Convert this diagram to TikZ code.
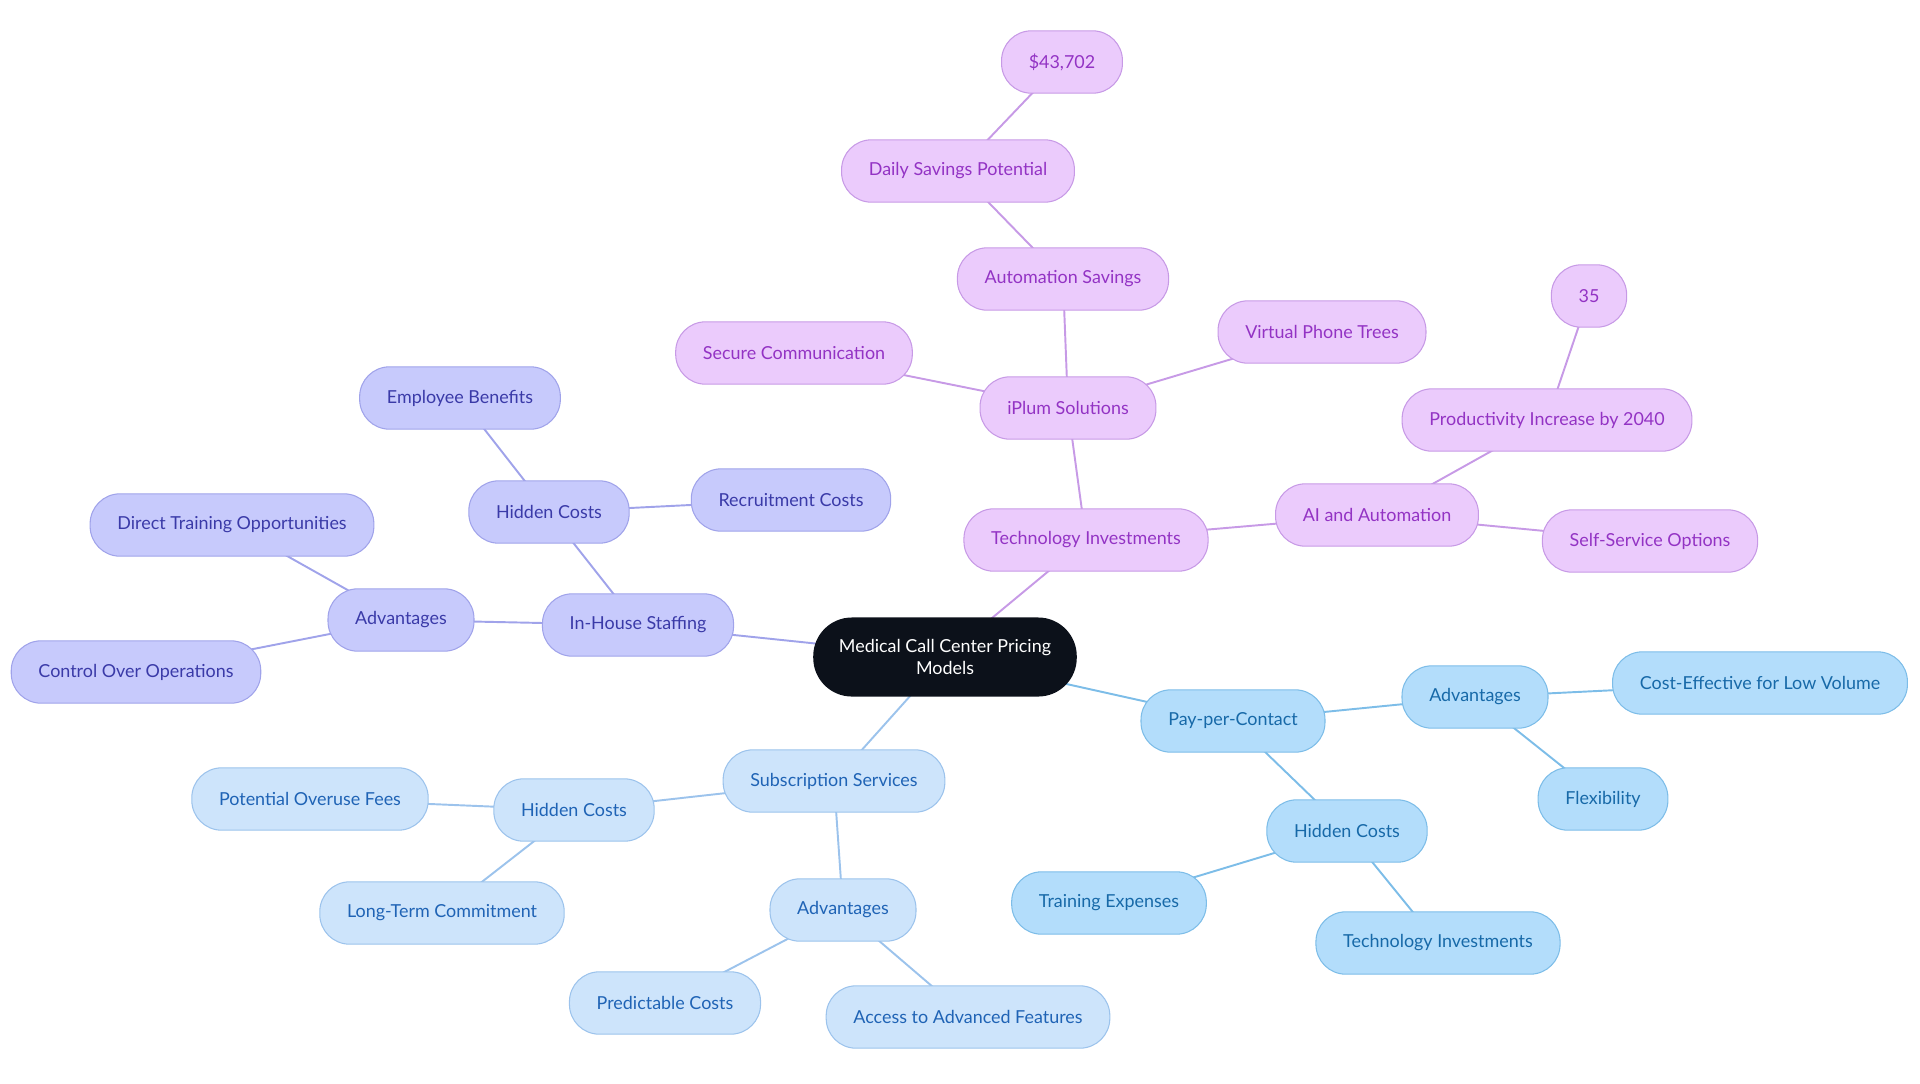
\documentclass[tikz,border=0pt]{standalone}
\usepackage{fontspec}
\setmainfont{Lato}
\usetikzlibrary{positioning,backgrounds}

\definecolor{rootfill}{HTML}{0C111A}
\definecolor{techfill}{HTML}{EBCBFC}
\definecolor{techline}{HTML}{C79AE6}
\definecolor{techtext}{HTML}{9333C4}
\definecolor{housefill}{HTML}{C7CAFC}
\definecolor{houseline}{HTML}{A0A3EA}
\definecolor{housetext}{HTML}{3A3AA8}
\definecolor{subfill}{HTML}{CDE4FB}
\definecolor{subline}{HTML}{9CC3EC}
\definecolor{subtext}{HTML}{1F63B5}
\definecolor{payfill}{HTML}{B3DDFB}
\definecolor{payline}{HTML}{7DBDE8}
\definecolor{paytext}{HTML}{1769A8}

\begin{document}
\begin{tikzpicture}[x=0.02cm, y=-0.02cm, font=\fontsize{10.2}{12.2}\selectfont,
  pill/.style={rounded corners=17pt, minimum height=35.5pt, inner xsep=15.5pt, line width=0.6pt},
  techbox/.style={pill, fill=techfill, draw=techline, text=techtext},
  housebox/.style={pill, fill=housefill, draw=houseline, text=housetext},
  subbox/.style={pill, fill=subfill, draw=subline, text=subtext},
  paybox/.style={pill, fill=payfill, draw=payline, text=paytext},
  techedge/.style={draw=techline, line width=1.1pt},
  houseedge/.style={draw=houseline, line width=1.1pt},
  subedge/.style={draw=subline, line width=1.1pt},
  payedge/.style={draw=payline, line width=1.1pt}]

  \useasboundingbox (0,0) rectangle (1920,1083);

  % root
  \node[fill=rootfill, text=white, rounded corners=22pt, minimum width=150pt,
    minimum height=45pt, align=center, inner xsep=12pt] (root) at (945,657)
    {Medical Call Center Pricing\\Models};

  % technology branch
  \node[techbox] (tech) at (1086,540) {Technology Investments};
  \node[techbox] (iplum) at (1068,408) {iPlum Solutions};
  \node[techbox] (autosave) at (1063,279) {Automation Savings};
  \node[techbox] (daily) at (958,171) {Daily Savings Potential};
  \node[techbox] (amount) at (1062,62) {\$43,702};
  \node[techbox] (secure) at (794,353) {Secure Communication};
  \node[techbox] (phone) at (1322,332) {Virtual Phone Trees};
  \node[techbox] (ai) at (1377,515) {AI and Automation};
  \node[techbox] (prod) at (1547,420) {Productivity Increase by 2040};
  \node[techbox] (thirty) at (1589,296) {35};
  \node[techbox] (self) at (1650,541) {Self-Service Options};

  % in-house branch
  \node[housebox] (house) at (638,625) {In-House Staffing};
  \node[housebox] (househid) at (549,512) {Hidden Costs};
  \node[housebox] (benefits) at (460,398) {Employee Benefits};
  \node[housebox] (recruit) at (791,500) {Recruitment Costs};
  \node[housebox] (houseadv) at (401,620) {Advantages};
  \node[housebox] (training) at (232,525) {Direct Training Opportunities};
  \node[housebox] (control) at (136,672) {Control Over Operations};

  % subscription branch
  \node[subbox] (sub) at (834,781) {Subscription Services};
  \node[subbox] (subhid) at (574,810) {Hidden Costs};
  \node[subbox] (overuse) at (310,799) {Potential Overuse Fees};
  \node[subbox] (longterm) at (442,913) {Long-Term Commitment};
  \node[subbox] (subadv) at (843,910) {Advantages};
  \node[subbox] (predict) at (665,1003) {Predictable Costs};
  \node[subbox] (access) at (968,1017) {Access to Advanced Features};

  % pay-per-contact branch
  \node[paybox] (pay) at (1233,721) {Pay-per-Contact};
  \node[paybox] (payadv) at (1475,697) {Advantages};
  \node[paybox] (lowvol) at (1760,683) {Cost-Effective for Low Volume};
  \node[paybox] (flex) at (1603,799) {Flexibility};
  \node[paybox] (payhid) at (1347,831) {Hidden Costs};
  \node[paybox] (trainexp) at (1109,903) {Training Expenses};
  \node[paybox] (techinv) at (1438,943) {Technology Investments};

  % connectors, behind the boxes
  \begin{scope}[on background layer]
    \draw[techedge] (root.center) -- (tech.center);
    \draw[techedge] (tech.center) -- (iplum.center);
    \draw[techedge] (iplum.center) -- (autosave.center);
    \draw[techedge] (autosave.center) -- (daily.center);
    \draw[techedge] (daily.center) -- (amount.center);
    \draw[techedge] (iplum.center) -- (secure.center);
    \draw[techedge] (iplum.center) -- (phone.center);
    \draw[techedge] (tech.center) -- (ai.center);
    \draw[techedge] (ai.center) -- (prod.center);
    \draw[techedge] (prod.center) -- (thirty.center);
    \draw[techedge] (ai.center) -- (self.center);

    \draw[houseedge] (root.center) -- (house.center);
    \draw[houseedge] (house.center) -- (househid.center);
    \draw[houseedge] (househid.center) -- (benefits.center);
    \draw[houseedge] (househid.center) -- (recruit.center);
    \draw[houseedge] (house.center) -- (houseadv.center);
    \draw[houseedge] (houseadv.center) -- (training.center);
    \draw[houseedge] (houseadv.center) -- (control.center);

    \draw[subedge] (root.center) -- (sub.center);
    \draw[subedge] (sub.center) -- (subhid.center);
    \draw[subedge] (subhid.center) -- (overuse.center);
    \draw[subedge] (subhid.center) -- (longterm.center);
    \draw[subedge] (sub.center) -- (subadv.center);
    \draw[subedge] (subadv.center) -- (predict.center);
    \draw[subedge] (subadv.center) -- (access.center);

    \draw[payedge] (root.center) -- (pay.center);
    \draw[payedge] (pay.center) -- (payadv.center);
    \draw[payedge] (payadv.center) -- (lowvol.center);
    \draw[payedge] (payadv.center) -- (flex.center);
    \draw[payedge] (pay.center) -- (payhid.center);
    \draw[payedge] (payhid.center) -- (trainexp.center);
    \draw[payedge] (payhid.center) -- (techinv.center);
  \end{scope}

\end{tikzpicture}
\end{document}
